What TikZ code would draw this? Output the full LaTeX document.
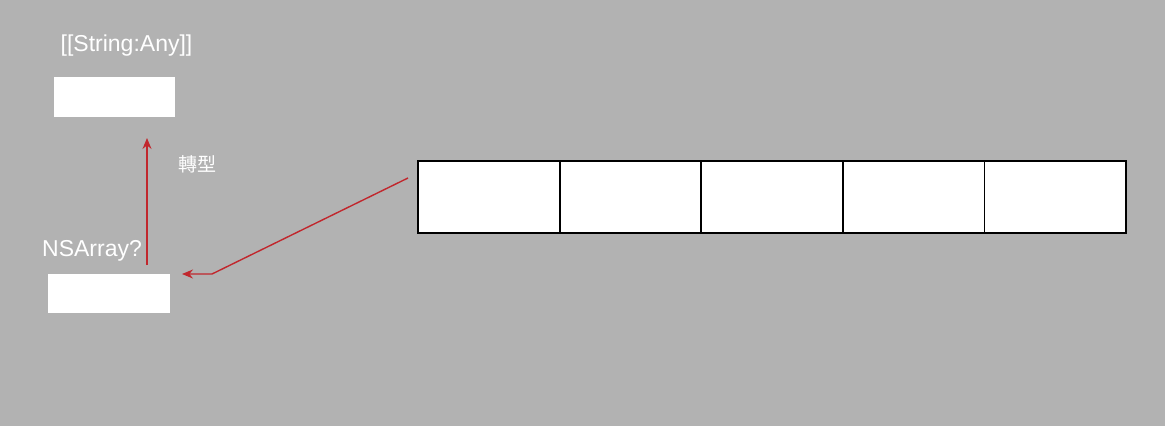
\documentclass[tikz,border=0pt]{standalone}
\usepackage{fontspec}
\setmainfont{Liberation Sans}
\newfontfamily\cjk{Noto Sans CJK TC}
\usetikzlibrary{arrows.meta}
\definecolor{bg}{HTML}{B2B2B2}
\definecolor{arr}{HTML}{C1272D}
\tikzset{
  wbox/.style={fill=white,draw=none,inner sep=0pt},
  cell/.style={fill=white,draw=black,line width=1.8pt,inner sep=0pt,minimum width=141.6pt,minimum height=72pt},
  lbl/.style={text=white,inner sep=0pt,font=\fontsize{23}{25}\selectfont},
  link/.style={draw=arr,line width=1.4pt,-{Stealth[length=11pt,width=9pt]}}
}
\begin{document}
\begin{tikzpicture}[x=1pt,y=-1pt]
\fill[bg] (0,0) rectangle (1165,426);
\useasboundingbox (0,0) rectangle (1165,426);
\node[wbox,minimum width=121pt,minimum height=40pt] (top) at (114.5,97) {};
\node[lbl] (toplbl) at (126.5,46) {[[String:Any]]};
\node[wbox,minimum width=122pt,minimum height=39pt] (bot) at (109,293.5) {};
\node[lbl,anchor=west] (botlbl) at (42,251) {NSArray?};
\foreach \i in {0,...,4} {
  \node[cell] (c\i) at ({418+70.8+141.6*\i},197) {};
}
\coordinate (vs) at (147,265);
\coordinate (ve) at (147,138);
\draw[link] (vs) -- (ve);
\node[text=white,inner sep=0pt,font=\cjk\fontsize{19}{21}\selectfont] (cast) at (197,164) {轉型};
\coordinate (ds) at (408,178);
\coordinate (dm) at (212,274);
\coordinate (de) at (182,274);
\draw[link] (ds) -- (dm) -- (de);
\end{tikzpicture}
\end{document}
